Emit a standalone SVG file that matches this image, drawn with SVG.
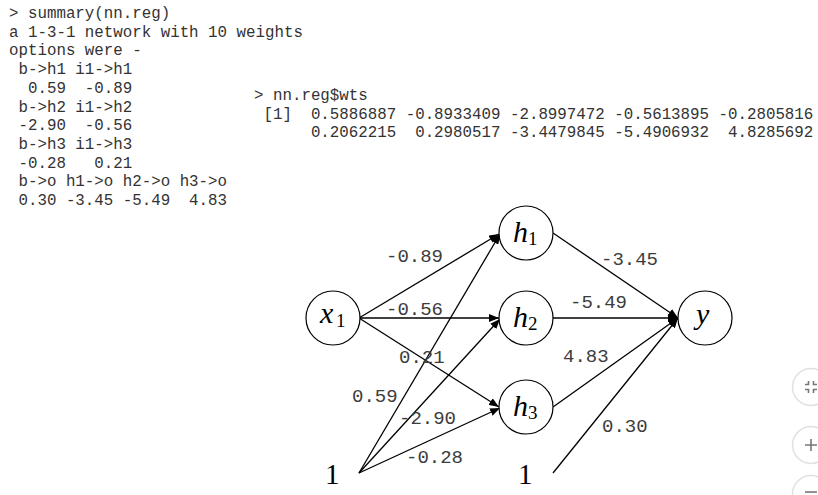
<svg xmlns="http://www.w3.org/2000/svg" width="818" height="495" viewBox="0 0 818 495">
<style>
.con{font-family:"Liberation Mono","Courier New",monospace;font-size:15.8px;fill:#333;white-space:pre}
.wt{font-family:"Liberation Mono","Courier New",monospace;font-size:19px;fill:#3c3c3c;white-space:pre}
.node circle{fill:#fff;stroke:#000;stroke-width:1.2}
.math{font-family:"Liberation Serif","Times New Roman",serif;font-style:italic;font-size:30px;fill:#000}
.sub{font-family:"Liberation Serif","Times New Roman",serif;font-size:19px;fill:#000}
.one{font-family:"Liberation Serif","Times New Roman",serif;font-size:29px;fill:#000}
.edge{stroke:#000;stroke-width:1.3;fill:none}
.btn circle{fill:#fff;stroke:#e0e0e0;stroke-width:1.5}
.btn path{stroke:#777;stroke-width:1.6;fill:none}
</style>
<defs>
<marker id="ah" markerUnits="userSpaceOnUse" markerWidth="10" markerHeight="8" refX="10" refY="4" orient="auto">
<path d="M0,0 L10,4 L0,8 z" fill="#000"/>
</marker>
</defs>
<rect width="818" height="495" fill="#fff"/>

<g id="console-left">
<text class="con" x="9" y="18" xml:space="preserve">&gt; summary(nn.reg)</text>
<text class="con" x="9" y="36.7" xml:space="preserve">a 1-3-1 network with 10 weights</text>
<text class="con" x="9" y="55.4" xml:space="preserve">options were -</text>
<text class="con" x="9" y="74.1" xml:space="preserve"> b-&gt;h1 i1-&gt;h1</text>
<text class="con" x="9" y="92.8" xml:space="preserve">  0.59  -0.89</text>
<text class="con" x="9" y="111.5" xml:space="preserve"> b-&gt;h2 i1-&gt;h2</text>
<text class="con" x="9" y="130.2" xml:space="preserve"> -2.90  -0.56</text>
<text class="con" x="9" y="148.9" xml:space="preserve"> b-&gt;h3 i1-&gt;h3</text>
<text class="con" x="9" y="167.6" xml:space="preserve"> -0.28   0.21</text>
<text class="con" x="9" y="186.3" xml:space="preserve"> b-&gt;o h1-&gt;o h2-&gt;o h3-&gt;o</text>
<text class="con" x="9" y="205" xml:space="preserve"> 0.30 -3.45 -5.49  4.83</text>
</g>

<g id="console-right">
<text class="con" x="254" y="100" xml:space="preserve">&gt; nn.reg$wts</text>
<text class="con" x="254" y="118.5" xml:space="preserve"> [1]  0.5886887 -0.8933409 -2.8997472 -0.5613895 -0.2805816</text>
<text class="con" x="254" y="137" xml:space="preserve">      0.2062215  0.2980517 -3.4479845 -5.4906932  4.8285692</text>
</g>

<g id="connectors">
<line class="edge" x1="359" y1="318" x2="499" y2="234" marker-end="url(#ah)"/>
<line class="edge" x1="359" y1="318" x2="499" y2="318" marker-end="url(#ah)"/>
<line class="edge" x1="359" y1="318" x2="499" y2="407" marker-end="url(#ah)"/>
<line class="edge" x1="359" y1="473" x2="500" y2="234" marker-end="url(#ah)"/>
<line class="edge" x1="359" y1="473" x2="500" y2="319" marker-end="url(#ah)"/>
<line class="edge" x1="359" y1="473" x2="500" y2="408" marker-end="url(#ah)"/>
<line class="edge" x1="553" y1="233" x2="678" y2="318" marker-end="url(#ah)"/>
<line class="edge" x1="553" y1="318" x2="678" y2="318" marker-end="url(#ah)"/>
<line class="edge" x1="553" y1="407" x2="678" y2="318" marker-end="url(#ah)"/>
<line class="edge" x1="553" y1="473" x2="678" y2="318" marker-end="url(#ah)"/>
</g>

<g id="weights">
<text class="wt" x="386" y="262">-0.89</text>
<text class="wt" x="386" y="315">-0.56</text>
<text class="wt" x="399" y="363">0.21</text>
<text class="wt" x="352" y="402">0.59</text>
<text class="wt" x="399" y="424">-2.90</text>
<text class="wt" x="406" y="463">-0.28</text>
<text class="wt" x="601" y="265">-3.45</text>
<text class="wt" x="570" y="308">-5.49</text>
<text class="wt" x="563" y="362">4.83</text>
<text class="wt" x="602" y="432">0.30</text>
</g>

<g id="node-x1" class="node">
<circle cx="333" cy="318" r="27"/>
<text class="math" x="320" y="323">x</text><text class="sub" x="336" y="327">1</text>
</g>
<g id="node-h1" class="node">
<circle cx="526" cy="233" r="27"/>
<text class="math" x="513" y="242">h</text><text class="sub" x="528" y="245">1</text>
</g>
<g id="node-h2" class="node">
<circle cx="526" cy="318" r="27"/>
<text class="math" x="513" y="327">h</text><text class="sub" x="528" y="330">2</text>
</g>
<g id="node-h3" class="node">
<circle cx="526" cy="407" r="27"/>
<text class="math" x="513" y="416">h</text><text class="sub" x="528" y="419">3</text>
</g>
<g id="node-y" class="node">
<circle cx="705" cy="318" r="27"/>
<text class="math" x="696" y="324">y</text>
</g>
<g id="bias-1">
<text class="one" x="325" y="484">1</text>
</g>
<g id="bias-2">
<text class="one" x="518" y="484">1</text>
</g>

<g id="viewer-buttons" class="btn">
<circle cx="811" cy="387" r="18.5"/>
<path d="M805,384.5 h3.5 v-3.5 M817,384.5 h-3.5 v-3.5 M805,389.5 h3.5 v3.5 M817,389.5 h-3.5 v3.5"/>
<circle cx="811" cy="445" r="18.5"/>
<path d="M805,445 h12 M811,439 v12"/>
<circle cx="811" cy="494" r="18.5"/>
<path d="M805,492 h12"/>
</g>
</svg>
